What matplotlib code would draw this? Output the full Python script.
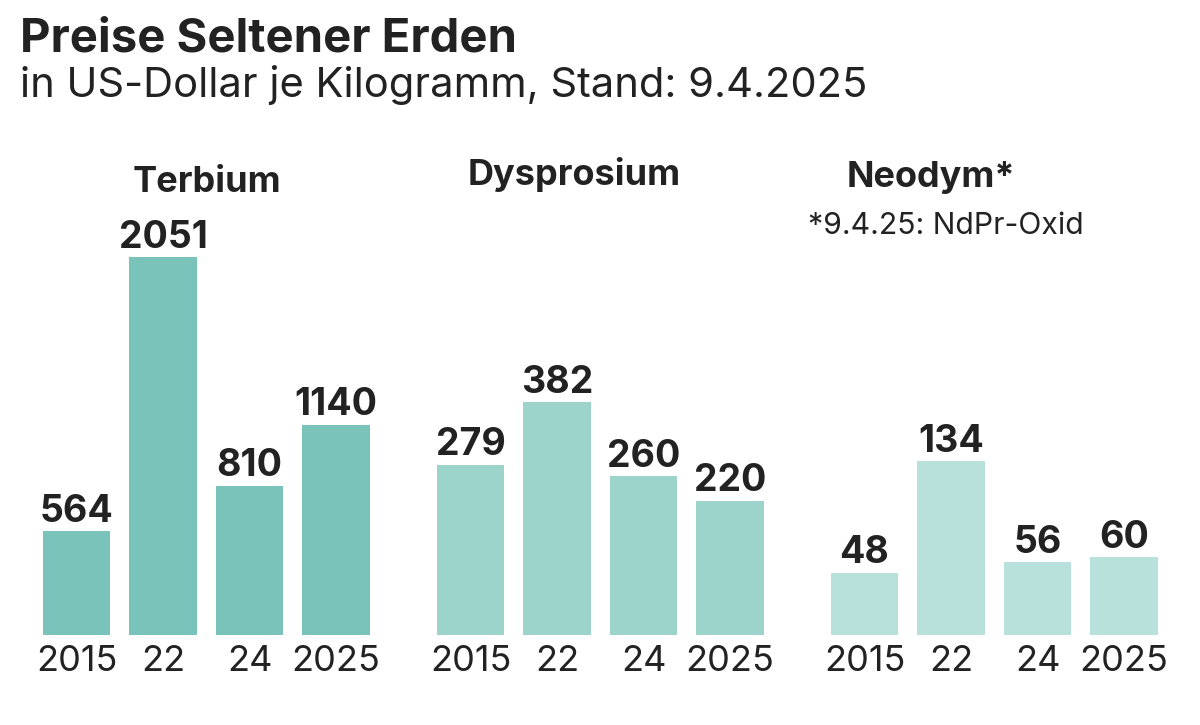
import matplotlib
matplotlib.use('Agg')
import matplotlib.pyplot as plt

plt.rcParams['font.family'] = ['Inter', 'DejaVu Sans']

years = ['2015', '22', '24', '2025']
elements = ['Terbium', 'Dysprosium', 'Neodym*']
terbium = [564, 2051, 810, 1140]
dysprosium = [279, 382, 260, 220]
neodym = [48, 134, 56, 60]
values = [terbium, dysprosium, neodym]
colors = ['#79c3bb', '#9cd4cc', '#b9e1dc']
ymax = [2170, 656, 308]

W, H = 1200, 725
fig = plt.figure(figsize=(12, 7.25), dpi=100)
ink = '#222222'

lefts = [33.25, 427.25, 821.25]
title_x = [207, 574, 931]
title_y = [192, 185, 187]

for i in range(3):
    ax = fig.add_axes([lefts[i] / W, 90 / H, 346 / W, 400 / H])
    bars = ax.bar(range(4), values[i], width=0.775, color=colors[i])
    ax.bar_label(bars, labels=[str(v) for v in values[i]], padding=1,
                 fontsize=27, fontweight='bold', color=ink)
    ax.set_xlim(-0.5, 3.5)
    ax.set_ylim(0, ymax[i])
    ax.set_xticks(range(4))
    ax.set_xticklabels(years, fontsize=26, color=ink)
    ax.tick_params(axis='x', length=0, pad=7)
    ax.set_yticks([])
    for s in ax.spines.values():
        s.set_visible(False)
    ax.patch.set_alpha(0)
    fig.text(title_x[i] / W, 1 - title_y[i] / H, elements[i], ha='center',
             va='baseline', fontsize=26, fontweight='bold', color=ink)

fig.text(808 / W, 1 - 234 / H, '*9.4.25: NdPr-Oxid', ha='left', va='baseline',
         fontsize=21.7, color=ink)
fig.text(20 / W, 1 - 52 / H, 'Preise Seltener Erden', ha='left', va='baseline',
         fontsize=34, fontweight='bold', color=ink)
fig.text(20 / W, 1 - 97 / H, 'in US-Dollar je Kilogramm, Stand: 9.4.2025',
         ha='left', va='baseline', fontsize=30, color=ink)

fig.savefig('out.png', dpi=100)
